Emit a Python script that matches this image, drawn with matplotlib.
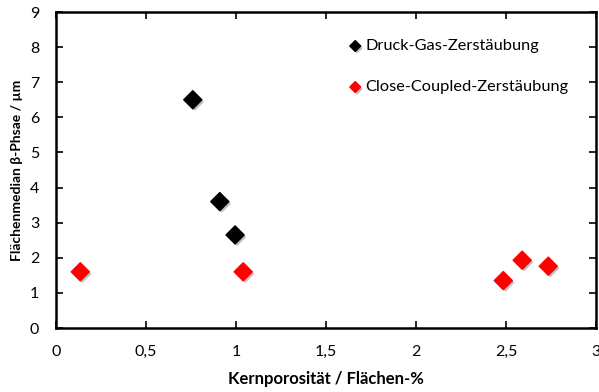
import matplotlib
matplotlib.use("Agg")
import matplotlib.pyplot as plt
import matplotlib.patheffects as pe
from matplotlib.ticker import FuncFormatter

plt.rcParams['font.family'] = ['Lato', 'DejaVu Sans']

dg_x = [0.76, 0.91, 0.995]
dg_y = [6.5, 3.6, 2.65]
cc_x = [0.135, 1.04, 2.485, 2.59, 2.735]
cc_y = [1.6, 1.6, 1.35, 1.93, 1.76]

xticks = [0, 0.5, 1, 1.5, 2, 2.5, 3]
yticks = list(range(0, 10))

fig = plt.figure(figsize=(5.99, 3.92), dpi=100)
ax = fig.add_axes([56/599, 1-328/392, 540/599, 316/392])

shadow = [pe.SimplePatchShadow(offset=(1.5, -1.5), shadow_rgbFace='gray', alpha=0.5), pe.Normal()]
s1 = ax.scatter(dg_x, dg_y, marker='D', s=85, color='black', zorder=3, label='Druck-Gas-Zerstäubung')
s2 = ax.scatter(cc_x, cc_y, marker='D', s=85, color='red', zorder=3, label='Close-Coupled-Zerstäubung')
s1.set_path_effects(shadow)
s2.set_path_effects(shadow)

ax.set_xlim(0, 3)
ax.set_ylim(0, 9)
ax.set_xticks(xticks)
ax.set_yticks(yticks)
ax.xaxis.set_major_formatter(FuncFormatter(lambda v, p: ('%g' % v).replace('.', ',')))
ax.tick_params(direction='in', top=True, right=True, length=5, width=1.2, labelsize=11.5, colors='black')
ax.tick_params(axis='x', pad=12)
ax.tick_params(axis='y', pad=12)
for sp in ax.spines.values():
    sp.set_linewidth(1.8)

ax.set_xlabel('Kernporosität / Flächen-%', fontsize=12, fontweight='bold', labelpad=9)
ax.set_ylabel('Flächenmedian β-Phsae / µm', fontsize=10, fontweight='bold', labelpad=5)

leg = ax.legend(loc='upper left', bbox_to_anchor=(0.539, 0.915), frameon=False, fontsize=11.8,
                handletextpad=0.1, markerscale=0.6, labelspacing=1.62, handlelength=1.0,
                borderaxespad=0, borderpad=0)

fig.savefig('out.png', dpi=100)
